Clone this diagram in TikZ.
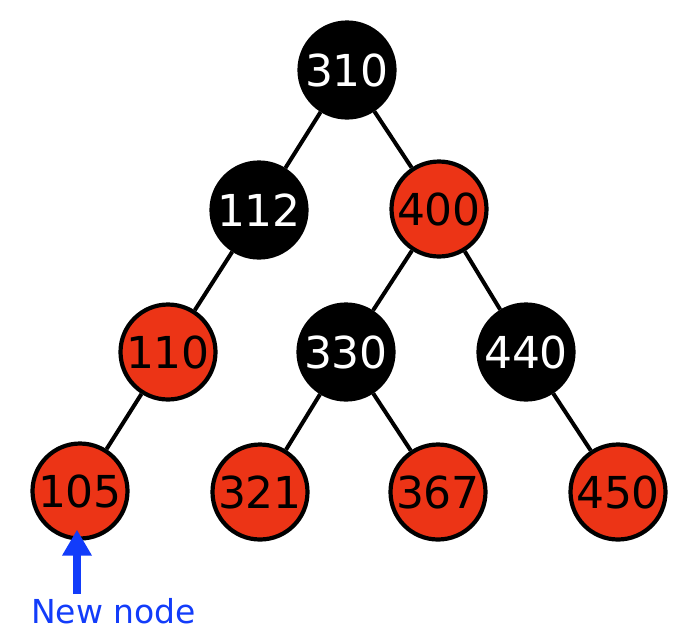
\documentclass[tikz,border=0pt]{standalone}
\usepackage{fontspec}
\setmainfont{DejaVu Sans}
\usetikzlibrary{arrows.meta}
\definecolor{rbred}{RGB}{236,52,22}
\definecolor{newblue}{RGB}{18,60,250}
\begin{document}
\begin{tikzpicture}[x=1pt,y=-1pt,
  rbnode/.style={circle,draw=black,line width=4.2pt,minimum size=95pt,inner sep=0pt,
    font=\fontsize{44}{44}\selectfont},
  blacknode/.style={rbnode,fill=black,text=white},
  rednode/.style={rbnode,fill=rbred,text=black},
  edge/.style={draw=black,line width=4pt},
  newarrow/.style={draw=newblue,line width=8.5pt,-{Triangle[width=28pt,length=26pt]}}]
\useasboundingbox (0,0) rectangle (698,638);
\node[blacknode] (n310) at (347,70) {310};
\node[blacknode] (n112) at (259,210) {112};
\node[rednode] (n400) at (439,209) {400};
\node[rednode] (n110) at (168,352) {110};
\node[blacknode] (n330) at (346,352) {330};
\node[blacknode] (n440) at (526,352) {440};
\node[rednode] (n105) at (80,491) {105};
\node[rednode] (n321) at (260,492) {321};
\node[rednode] (n367) at (438,492) {367};
\node[rednode] (n450) at (618,492) {450};
\path[edge] (n310) -- (n112);
\path[edge] (n310) -- (n400);
\path[edge] (n112) -- (n110);
\path[edge] (n110) -- (n105);
\path[edge] (n400) -- (n330);
\path[edge] (n400) -- (n440);
\path[edge] (n330) -- (n321);
\path[edge] (n330) -- (n367);
\path[edge] (n440) -- (n450);
\node[anchor=base west,text=newblue,font=\fontsize{33}{33}\selectfont,inner sep=0pt] (lbl) at (31,623) {New node};
\coordinate (tail) at (77,594);
\draw[newarrow] (tail) -- ([yshift=11pt]tail |- n105.south);
\end{tikzpicture}
\end{document}
